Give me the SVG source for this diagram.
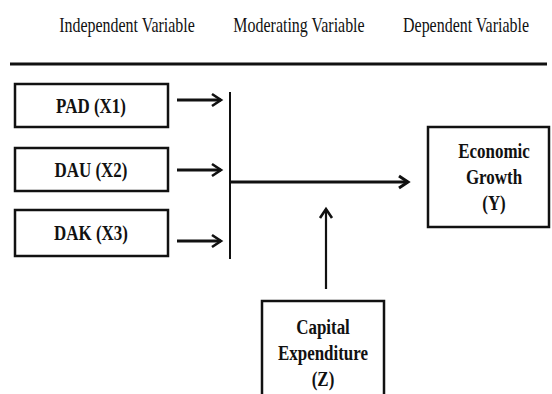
<svg xmlns="http://www.w3.org/2000/svg" width="552" height="394" viewBox="0 0 552 394">
<style>
.hdr{font-family:"Liberation Serif","Times New Roman",Times,serif;font-size:21px;fill:#111;text-anchor:middle}
.lbl{font-family:"Liberation Serif","Times New Roman",Times,serif;font-size:22px;font-weight:bold;fill:#111;text-anchor:middle}
.box{fill:#fff;stroke:#111;stroke-width:2.5}
.ln{stroke:#111;fill:none}
</style>
<defs>
<marker id="chev" markerUnits="userSpaceOnUse" markerWidth="14" markerHeight="16" refX="10" refY="7" orient="auto" overflow="visible">
<path d="M1,1 L10,7 L1,13" fill="none" stroke="#111" stroke-width="2.6" stroke-linejoin="miter"/>
</marker>
</defs>
<rect width="552" height="394" fill="#fff"/>
<g id="headers">
<text class="hdr" transform="translate(127,32) scale(0.76,1)">Independent Variable</text>
<text class="hdr" transform="translate(299,32) scale(0.76,1)">Moderating Variable</text>
<text class="hdr" transform="translate(466,32) scale(0.76,1)">Dependent Variable</text>
<line class="ln" x1="10" y1="64" x2="547" y2="64" stroke-width="3"/>
</g>
<g id="pad">
<rect class="box" x="15" y="84" width="153" height="43"/>
<text class="lbl" transform="translate(91,113) scale(0.77,1)">PAD (X1)</text>
</g>
<g id="dau">
<rect class="box" x="15" y="148" width="153" height="43"/>
<text class="lbl" transform="translate(91,177) scale(0.77,1)">DAU (X2)</text>
</g>
<g id="dak">
<rect class="box" x="15" y="210" width="153" height="46"/>
<text class="lbl" transform="translate(91,240) scale(0.77,1)">DAK (X3)</text>
</g>
<g id="growth">
<rect class="box" x="428" y="127" width="121" height="100"/>
<text class="lbl" transform="translate(494,158) scale(0.77,1)">Economic</text>
<text class="lbl" transform="translate(494,184) scale(0.77,1)">Growth</text>
<text class="lbl" transform="translate(494,210) scale(0.77,1)">(Y)</text>
</g>
<g id="capex">
<path class="box" d="M262,396 L262,301 L384,301 L384,396"/>
<text class="lbl" transform="translate(323,334) scale(0.77,1)">Capital</text>
<text class="lbl" transform="translate(323,360) scale(0.77,1)">Expenditure</text>
<text class="lbl" transform="translate(323,386) scale(0.77,1)">(Z)</text>
</g>
<g id="connectors">
<line class="ln" x1="177" y1="100" x2="221" y2="100" stroke-width="3.2" marker-end="url(#chev)"/>
<line class="ln" x1="177" y1="170" x2="221" y2="170" stroke-width="3.2" marker-end="url(#chev)"/>
<line class="ln" x1="177" y1="241" x2="221" y2="241" stroke-width="3.2" marker-end="url(#chev)"/>
<line class="ln" x1="230" y1="92" x2="230" y2="259" stroke-width="2"/>
<line class="ln" x1="230" y1="182" x2="408" y2="182" stroke-width="3"/>
<path d="M399,176 L408,182 L399,188" fill="none" stroke="#111" stroke-width="3"/>
<line class="ln" x1="326" y1="289" x2="326" y2="209" stroke-width="2.2" marker-end="url(#chev)"/>
</g>
</svg>
